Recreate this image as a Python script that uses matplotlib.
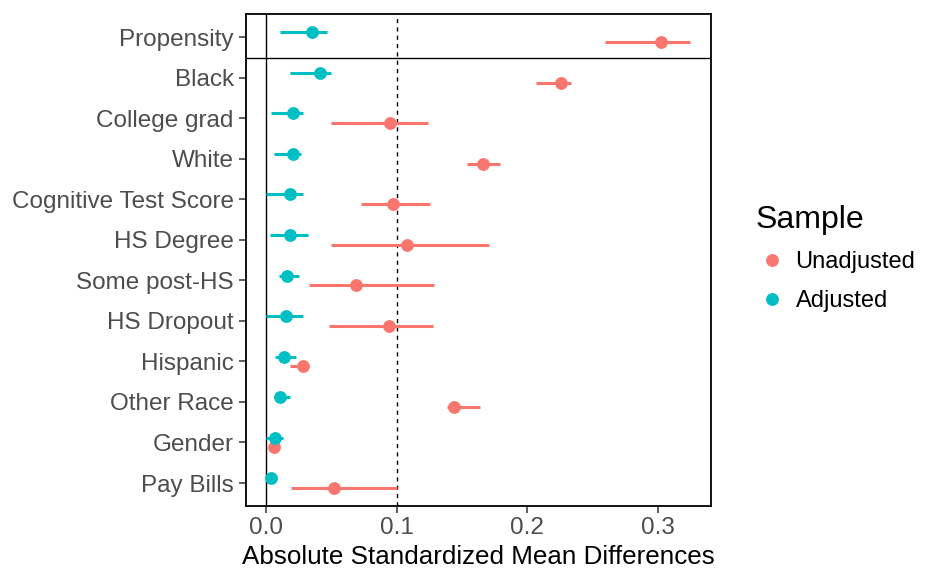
import numpy as np
import matplotlib
matplotlib.use("Agg")
import matplotlib.pyplot as plt
from matplotlib.lines import Line2D

plt.rcParams['font.family'] = ['Liberation Sans', 'DejaVu Sans']

# covariates, top to bottom
variables = ['Propensity', 'Black', 'College grad', 'White', 'Cognitive Test Score',
             'HS Degree', 'Some post-HS', 'HS Dropout', 'Hispanic', 'Other Race',
             'Gender', 'Pay Bills']

# unadjusted sample: point estimate and interval
unadj = [0.303, 0.226, 0.095, 0.166, 0.097, 0.108, 0.069, 0.094, 0.028, 0.144, 0.006, 0.052]
unadj_lo = [0.260, 0.207, 0.050, 0.154, 0.073, 0.050, 0.033, 0.048, 0.018, 0.139, 0.003, 0.019]
unadj_hi = [0.325, 0.234, 0.124, 0.179, 0.126, 0.171, 0.129, 0.128, 0.030, 0.164, 0.009, 0.100]

# adjusted sample
adj = [0.035, 0.041, 0.021, 0.021, 0.018, 0.018, 0.016, 0.015, 0.014, 0.011, 0.007, 0.004]
adj_lo = [0.011, 0.018, 0.004, 0.006, 0.000, 0.003, 0.010, 0.000, 0.007, 0.007, 0.000, 0.001]
adj_hi = [0.047, 0.050, 0.028, 0.027, 0.028, 0.032, 0.025, 0.028, 0.023, 0.018, 0.013, 0.007]

red = '#F8766D'
teal = '#00BFC4'

fig = plt.figure(figsize=(9.27, 5.74), dpi=100)
ax = fig.add_axes([0.265, 0.119, 0.502, 0.857])

y = np.arange(len(variables))
dodge = 0.12

# reference lines
ax.axvline(0, color='black', lw=1.0, zorder=1)
ax.axvline(0.1, color='black', lw=1.0, ls=(0, (3, 3)), zorder=1)
ax.axhline(0.5, color='black', lw=1.0, zorder=1)

ax.hlines(y + dodge, unadj_lo, unadj_hi, color=red, lw=2.2, zorder=2)
ax.plot(unadj, y + dodge, 'o', color=red, ms=8.2, zorder=3)
ax.hlines(y - dodge, adj_lo, adj_hi, color=teal, lw=2.2, zorder=2)
ax.plot(adj, y - dodge, 'o', color=teal, ms=8.2, zorder=3)

ax.set_yticks(y)
ax.set_yticklabels(variables)
ax.set_ylim(11.56, -0.58)
ax.set_xlim(-0.0156, 0.341)
ax.set_xticks([0.0, 0.1, 0.2, 0.3])
ax.set_xticklabels(['0.0', '0.1', '0.2', '0.3'])
ax.tick_params(labelsize=17.5, colors='#333333', labelcolor='#4D4D4D', length=5, width=1.1)
ax.set_xlabel('Absolute Standardized Mean Differences', fontsize=18.7, color='black', labelpad=4)

for s in ax.spines.values():
    s.set_color('black')
    s.set_linewidth(1.3)

handles = [Line2D([], [], marker='o', ls='', color=red, ms=8.2),
           Line2D([], [], marker='o', ls='', color=teal, ms=8.2)]
leg = fig.legend(handles, ['Unadjusted', 'Adjusted'], title='Sample',
                 loc='upper left', bbox_to_anchor=(0.792, 0.680), frameon=False,
                 fontsize=17, title_fontsize=23, alignment='left',
                 handletextpad=0.3, labelspacing=0.7, handlelength=1.4)

fig.savefig('out.png', dpi=100)
